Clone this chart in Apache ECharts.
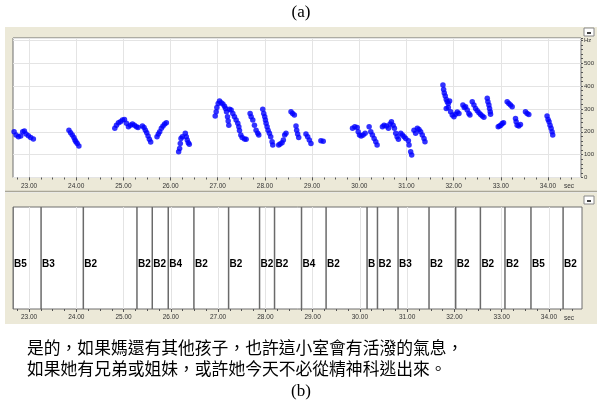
<!DOCTYPE html>
<html><head><meta charset="utf-8">
<script src="https://cdn.jsdelivr.net/npm/echarts@6/dist/echarts.min.js"></script>
<style>html,body{margin:0;padding:0;background:#fff;}#c{width:597px;height:409px;}</style>
</head><body><div id="c"></div>
<script>
// ---- pitch track (seconds, Hz) ----
const pitchTime = [
  22.683,22.725,22.775,22.824,22.866,22.901,22.937,22.986,23.035,23.092,
  23.846,23.881,23.916,23.951,23.973,23.994,24.022,24.057,
  24.818,24.853,24.896,24.938,24.980,25.023,25.065,25.107,25.149,25.192,25.234,25.276,25.311,
  25.403,25.438,25.467,25.495,25.523,25.551,25.579,
  25.713,25.741,25.770,25.805,25.840,25.875,25.911,
  26.171,26.192,26.206,26.221,26.249,26.312,26.333,26.354,26.376,26.397,
  26.946,26.967,26.982,27.010,27.038,27.073,27.109,27.144,27.165,27.186,27.207,27.221,27.235,
  27.249,27.284,27.320,27.355,27.390,27.425,27.447,27.461,27.489,27.517,27.567,27.602,
  27.686,27.708,27.743,27.778,27.813,27.848,27.870,
  27.954,27.975,27.996,28.011,28.025,28.046,28.067,28.095,28.123,28.152,28.166,
  28.292,28.321,28.363,28.391,28.419,28.447,
  28.553,28.588,28.624,
  28.659,28.673,28.694,28.716,
  28.870,28.906,28.941,28.976,
  29.187,29.236,
  29.857,29.906,29.956,29.977,30.005,30.040,30.082,30.125,
  30.209,30.244,30.279,30.315,30.350,30.378,
  30.491,30.526,30.576,30.618,30.653,30.682,30.717,30.745,30.773,30.802,30.830,
  30.879,30.914,30.950,30.985,
  31.041,31.055,31.090,31.111,
  31.160,31.195,31.231,31.266,31.301,31.336,31.372,31.393,
  31.774,31.788,31.802,31.823,31.844,31.865,31.887,31.915,31.844,31.887,31.936,31.971,32.007,32.042,32.077,32.113,
  32.197,32.226,32.254,32.289,32.324,32.346,
  32.395,32.431,32.466,32.501,32.537,32.572,32.607,32.642,
  32.713,32.727,32.748,32.762,32.776,32.783,
  32.945,32.973,33.001,33.030,33.058,
  33.135,33.171,33.206,33.241,
  33.312,33.326,33.347,33.382,33.417,
  33.523,33.558,33.594,
  33.981,34.002,34.023,34.044,34.066,34.087,34.101
];
const pitchHz = [
  200,186,178,181,200,203,190,183,175,168,
  207,196,186,175,164,156,149,138,
  215,229,239,244,251,254,237,222,229,234,228,222,219,
  225,219,207,196,181,167,155,
  178,190,200,215,225,234,239,
  113,127,149,171,178,193,178,164,152,145,
  269,287,306,324,334,327,321,312,302,287,266,247,229,
  298,295,280,266,251,237,222,205,186,175,168,167,
  280,266,251,229,207,193,186,
  298,280,266,251,237,222,207,193,178,156,142,
  142,146,152,164,186,193,
  287,280,273,
  225,207,190,175,
  190,178,164,149,
  161,158,
  215,222,219,200,186,181,186,193,
  222,200,186,171,156,142,
  222,229,225,215,234,244,229,215,193,178,167,
  193,186,178,171,
  161,142,113,98,
  207,193,215,210,200,186,171,156,
  404,385,370,356,341,331,324,335,302,306,287,273,266,277,286,280,
  317,306,309,295,280,273,
  331,317,302,292,283,276,269,263,
  346,331,317,302,287,277,
  222,225,229,236,239,
  331,324,317,309,
  258,244,229,225,232,
  287,280,276,
  269,254,244,229,215,200,186
];
// ---- segmentation (start time of each segment, label) ----
const segStart = [22.66,23.254,24.148,25.283,25.607,25.945,26.488,27.222,27.877,28.194,28.765,29.285,30.152,30.372,30.808,31.463,32.027,32.55,33.07,33.62,34.30];
const segLabel = ['B5','B3','B2','B2','B2','B4','B2','B2','B2','B2','B4','B2','B3','B2','B3','B2','B2','B2','B2','B5','B2'];
// ---- axes ----
const xTickValues = [23,24,25,26,27,28,29,30,31,32,33,34];
const xTickLabels = ['23.00','24.00','25.00','26.00','27.00','28.00','29.00','30.00','31.00','32.00','33.00','34.00'];
const xUnit = 'sec';
const yTickValues = [0,100,200,300,400,500,600];
const yTickLabels = ['0','100','200','300','400','500','Hz'];
// ---- texts ----
const captionA = '(a)';
const captionB = '(b)';
const textLines = ['是的，如果媽還有其他孩子，也許這小室會有活潑的氣息，','如果她有兄弟或姐妹，或許她今天不必從精神科逃出來。'];

const X_MIN = 22.66, X_MAX = 34.70;
const xMinor = [];
for (let v = 22.75; v <= 34.5 + 1e-9; v += 0.25) xMinor.push(+v.toFixed(2));

const beige = '#ECE9D8';
const labelFont = {fontSize: 6.5, color: '#333', fontFamily: 'Liberation Sans'};

function xAxesFor(grid) {
  return [
    {gridIndex: grid, type: 'value', min: X_MIN, max: X_MAX, position: 'bottom',
     axisLine: {show: false},
     axisTick: {show: true, length: 3, customValues: xTickValues, lineStyle: {color: '#555'}},
     axisLabel: Object.assign({customValues: xTickValues, margin: 5,
       formatter: v => { const i = xTickValues.indexOf(Math.round(v)); return i >= 0 ? xTickLabels[i] : ''; }}, labelFont),
     splitLine: {show: true, lineStyle: {color: '#e4e4e4', width: 1}}},
    {gridIndex: grid, type: 'value', min: X_MIN, max: X_MAX, position: 'bottom',
     axisLine: {show: false},
     axisTick: {show: true, length: 2, customValues: xMinor, lineStyle: {color: '#555'}},
     axisLabel: {show: false}, splitLine: {show: false}}
  ];
}

const chart = echarts.init(document.getElementById('c'), null, {renderer: 'canvas'});
const option = {
  animation: false,
  backgroundColor: '#fff',
  graphic: [
    {type: 'rect', z: -100, shape: {x: 5, y: 27, width: 592, height: 165}, style: {fill: beige}},
    {type: 'rect', z: -100, shape: {x: 5, y: 193, width: 592, height: 131}, style: {fill: beige}},
    {type: 'line', z: -90, shape: {x1: 5, y1: 191.5, x2: 597, y2: 191.5}, style: {stroke: '#a9a698', lineWidth: 1.5}},
    {type: 'rect', z: -80, shape: {x: 584, y: 28, width: 10, height: 8}, style: {fill: '#fff', stroke: '#888', lineWidth: 1}},
    {type: 'line', z: -79, shape: {x1: 587, y1: 33, x2: 591, y2: 33}, style: {stroke: '#000', lineWidth: 1.5}},
    {type: 'rect', z: -80, shape: {x: 584, y: 196, width: 10, height: 8}, style: {fill: '#fff', stroke: '#888', lineWidth: 1}},
    {type: 'line', z: -79, shape: {x1: 587, y1: 201, x2: 591, y2: 201}, style: {stroke: '#000', lineWidth: 1.5}},
    {type: 'text', z: 100, x: 569, y: 186, style: {text: xUnit, fill: '#333', font: '6.5px "Liberation Sans"', align: 'center', verticalAlign: 'middle'}},
    {type: 'text', z: 100, x: 569, y: 318, style: {text: xUnit, fill: '#333', font: '6.5px "Liberation Sans"', align: 'center', verticalAlign: 'middle'}},
    {type: 'text', z: 100, x: 301, y: 13, style: {text: captionA, fill: '#000', font: '17px "Liberation Serif"', align: 'center', verticalAlign: 'middle'}},
    {type: 'text', z: 100, x: 27, y: 348, style: {text: textLines[0], fill: '#000', font: '16.8px "Noto Sans CJK TC"', align: 'left', verticalAlign: 'middle'}},
    {type: 'text', z: 100, x: 27, y: 369, style: {text: textLines[1], fill: '#000', font: '16.8px "Noto Sans CJK TC"', align: 'left', verticalAlign: 'middle'}},
    {type: 'text', z: 100, x: 301, y: 392, style: {text: captionB, fill: '#000', font: '17px "Liberation Serif"', align: 'center', verticalAlign: 'middle'}}
  ],
  grid: [
    {left: 13, top: 38, width: 569, height: 139.5, show: true, backgroundColor: '#fff', borderColor: '#6f6f6f', borderWidth: 1},
    {left: 13, top: 207, width: 569, height: 102, show: true, backgroundColor: '#fff', borderColor: '#6f6f6f', borderWidth: 1}
  ],
  xAxis: xAxesFor(0).concat(xAxesFor(1)),
  yAxis: [
    {gridIndex: 0, type: 'value', min: 0, max: 610, interval: 100, position: 'right',
     axisLine: {show: false},
     axisTick: {show: true, length: 2, lineStyle: {color: '#555'}},
     minorTick: {show: true, splitNumber: 5, length: 2, lineStyle: {color: '#555'}},
     axisLabel: Object.assign({margin: 3, formatter: v => { const i = yTickValues.indexOf(v); return i >= 0 ? yTickLabels[i] : ''; }}, labelFont, {fontSize: 6}),
     splitLine: {show: true, lineStyle: {color: '#e4e4e4'}}},
    {gridIndex: 1, type: 'value', min: 0, max: 1, show: false}
  ],
  series: [
    {type: 'scatter', xAxisIndex: 0, yAxisIndex: 0, symbol: 'circle', symbolSize: 5.5,
     itemStyle: {color: '#0000ff'},
     data: pitchTime.map((t, i) => [t, pitchHz[i]])},
    {type: 'custom', xAxisIndex: 2, yAxisIndex: 1, clip: true,
     data: segStart.map(s => [s]),
     encode: {x: 0},
     renderItem: (params, api) => {
       const i = params.dataIndex;
       const s = api.value(0);
       const e = i + 1 < segStart.length ? segStart[i + 1] : X_MAX;
       const top = api.coord([s, 1]);
       const bot = api.coord([s, 0]);
       const endP = api.coord([e, 0]);
       const lab = api.coord([s, 0.44]);
       return {type: 'group', children: [
         {type: 'line', shape: {x1: top[0], y1: top[1], x2: bot[0], y2: bot[1]}, style: {stroke: '#6a6a6a', lineWidth: 1.5}},
         {type: 'text', x: lab[0] + 1, y: lab[1], style: {text: segLabel[i], fill: '#000', font: 'bold 10px "Liberation Sans"', align: 'left', verticalAlign: 'middle', width: Math.max(9, endP[0] - lab[0] + 1), overflow: 'truncate', ellipsis: ''}}
       ]};
     }}
  ]
};
chart.setOption(option);
</script>
</body></html>
